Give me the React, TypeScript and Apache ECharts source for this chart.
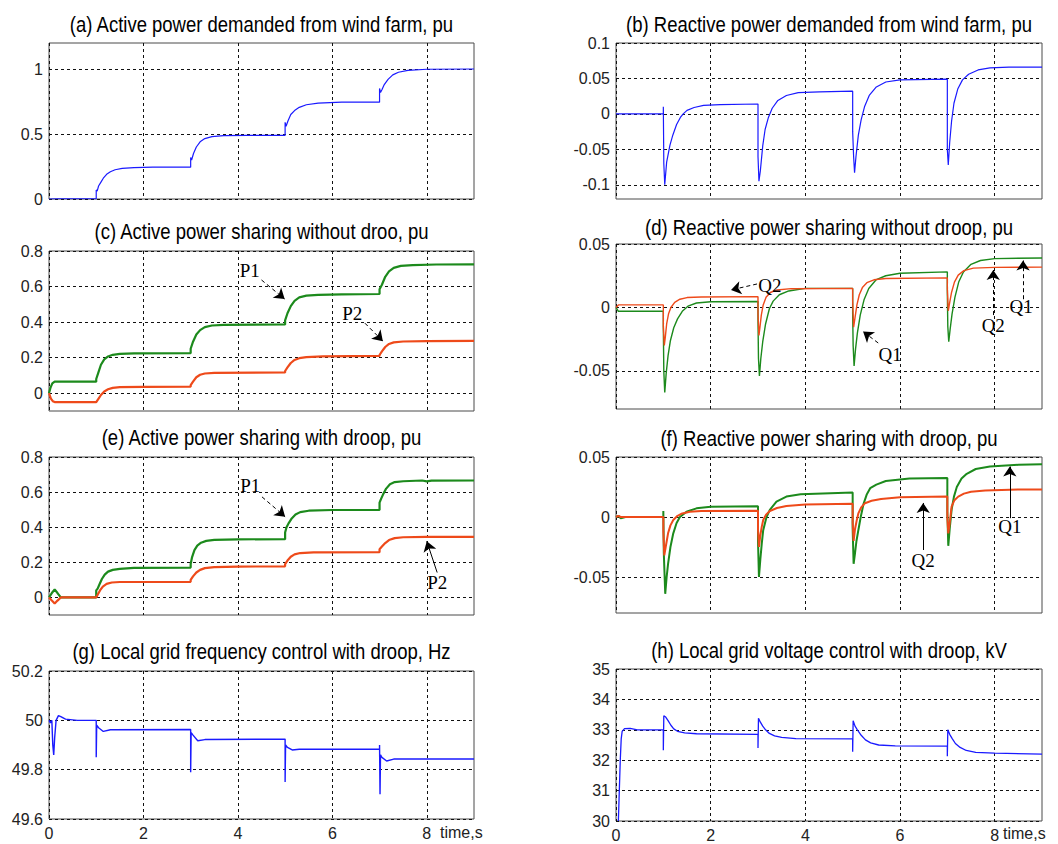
import React, { useEffect, useRef } from 'react';
import * as echarts from 'echarts';

// ---------- Titles & ticks ----------
const panelTitles = [
  '(a) Active power demanded from wind farm, pu',
  '(b) Reactive power demanded from wind farm, pu',
  '(c) Active power sharing without droo, pu',
  '(d) Reactive power sharing without droop, pu',
  '(e) Active power sharing with droop, pu',
  '(f) Reactive power sharing with droop, pu',
  '(g) Local grid frequency control with droop, Hz',
  '(h) Local grid voltage control with droop, kV',
];
const xTicks = [0, 2, 4, 6, 8];
const yRanges = [[0, 1.2], [-0.12, 0.1], [-0.1, 0.8], [-0.08, 0.05], [-0.1, 0.8], [-0.08, 0.05], [49.6, 50.2], [30, 35]];
const yTicks = [
  [0, 0.5, 1],
  [-0.1, -0.05, 0, 0.05, 0.1],
  [0, 0.2, 0.4, 0.6, 0.8],
  [-0.05, 0, 0.05],
  [0, 0.2, 0.4, 0.6, 0.8],
  [-0.05, 0, 0.05],
  [49.6, 49.8, 50, 50.2],
  [30, 31, 32, 33, 34, 35],
];
const timeLabel = 'time,s';

// ---------- Data: [time s, value] ----------
const aP = [[0,0],[0.2,0.002],[1.0,0.002],[1.0,0.07],[1.02,0.06],[1.05,0.1],[1.1,0.13],[1.15,0.16],[1.22,0.19],[1.3,0.21],[1.4,0.225],[1.55,0.235],[1.8,0.242],[2.2,0.245],[3.0,0.245],[3.0,0.32],[3.02,0.3],[3.06,0.35],[3.12,0.4],[3.2,0.44],[3.3,0.465],[3.45,0.48],[3.7,0.488],[4.2,0.49],[5.0,0.49],[5.0,0.59],[5.02,0.56],[5.06,0.6],[5.12,0.65],[5.2,0.68],[5.3,0.705],[5.45,0.725],[5.7,0.738],[6.2,0.745],[7.0,0.745],[7.0,0.85],[7.02,0.82],[7.05,0.84],[7.1,0.88],[7.18,0.92],[7.28,0.955],[7.4,0.975],[7.6,0.99],[8.0,0.998],[9.0,1.0]];
const bQ = [[0,0],[1.0,0],[1.0,0.01],[1.01,-0.07],[1.03,-0.1],[1.07,-0.068],[1.14,-0.044],[1.2,-0.03],[1.28,-0.015],[1.36,-0.005],[1.42,0.0],[1.5,0.005],[1.65,0.009],[1.85,0.012],[2.2,0.013],[3.0,0.014],[3.0,-0.06],[3.02,-0.095],[3.05,-0.08],[3.1,-0.045],[3.15,-0.022],[3.22,-0.005],[3.3,0.008],[3.42,0.019],[3.6,0.026],[3.85,0.03],[4.3,0.031],[5.0,0.032],[5.0,-0.025],[5.02,-0.06],[5.04,-0.083],[5.07,-0.06],[5.12,-0.03],[5.18,-0.008],[5.25,0.01],[5.35,0.026],[5.5,0.038],[5.7,0.045],[6.0,0.048],[7.0,0.049],[7.0,-0.05],[7.02,-0.072],[7.05,-0.04],[7.09,-0.01],[7.14,0.015],[7.22,0.035],[7.32,0.048],[7.45,0.056],[7.65,0.062],[7.9,0.065],[8.3,0.066],[9.0,0.066]];
const cP1 = [[0,0],[0.03,0.03],[0.07,0.055],[0.12,0.065],[1.0,0.065],[1.0,0.08],[1.05,0.12],[1.1,0.16],[1.17,0.19],[1.25,0.207],[1.35,0.216],[1.5,0.221],[1.8,0.224],[3.0,0.225],[3.0,0.25],[3.05,0.29],[3.12,0.33],[3.2,0.355],[3.3,0.372],[3.45,0.381],[3.7,0.385],[5.0,0.387],[5.0,0.41],[5.05,0.45],[5.12,0.49],[5.2,0.52],[5.3,0.539],[5.45,0.549],[5.7,0.553],[6.2,0.556],[7.0,0.558],[7.0,0.585],[7.05,0.61],[7.12,0.655],[7.2,0.685],[7.3,0.705],[7.45,0.716],[7.7,0.721],[8.2,0.724],[9.0,0.725]];
const cP2 = [[0,0],[0.04,-0.03],[0.08,-0.045],[0.12,-0.05],[1.0,-0.05],[1.05,-0.03],[1.1,-0.01],[1.17,0.01],[1.25,0.022],[1.35,0.03],[1.5,0.034],[2.0,0.036],[3.0,0.037],[3.0,0.045],[3.05,0.065],[3.12,0.09],[3.2,0.104],[3.3,0.111],[3.5,0.114],[5.0,0.117],[5.0,0.125],[5.05,0.145],[5.12,0.17],[5.2,0.187],[5.3,0.197],[5.45,0.203],[5.8,0.207],[7.0,0.21],[7.0,0.215],[7.05,0.235],[7.12,0.26],[7.2,0.277],[7.3,0.286],[7.5,0.291],[8.0,0.293],[9.0,0.294]];
const dQ1 = [[0,0],[0.05,-0.003],[1.0,-0.003],[1.0,-0.015],[1.01,-0.05],[1.03,-0.067],[1.06,-0.052],[1.1,-0.038],[1.15,-0.026],[1.22,-0.016],[1.3,-0.009],[1.4,-0.003],[1.52,0.001],[1.7,0.0035],[2.0,0.0045],[3.0,0.0047],[3.0,-0.01],[3.01,-0.04],[3.03,-0.054],[3.06,-0.04],[3.1,-0.027],[3.16,-0.013],[3.24,-0.001],[3.32,0.005],[3.45,0.01],[3.65,0.013],[4.0,0.015],[5.0,0.015],[5.0,-0.005],[5.01,-0.03],[5.03,-0.046],[5.06,-0.033],[5.1,-0.02],[5.16,-0.006],[5.24,0.006],[5.34,0.015],[5.5,0.022],[5.7,0.025],[6.0,0.027],[7.0,0.028],[7.0,0.012],[7.01,-0.015],[7.03,-0.027],[7.06,-0.017],[7.1,-0.005],[7.16,0.008],[7.24,0.02],[7.34,0.028],[7.5,0.034],[7.7,0.037],[8.0,0.0385],[9.0,0.039]];
const dQ2 = [[0,0],[0.05,0.002],[1.0,0.002],[1.0,-0.015],[1.02,-0.03],[1.04,-0.024],[1.07,-0.013],[1.11,-0.005],[1.16,0.0],[1.24,0.004],[1.35,0.0065],[1.5,0.0078],[1.8,0.0083],[3.0,0.0085],[3.0,-0.005],[3.02,-0.022],[3.04,-0.016],[3.07,-0.006],[3.11,0.002],[3.17,0.008],[3.26,0.0118],[3.4,0.0138],[3.7,0.0148],[5.0,0.015],[5.0,0.005],[5.02,-0.0155],[5.05,-0.008],[5.09,0.002],[5.14,0.01],[5.21,0.016],[5.3,0.0195],[5.45,0.0218],[5.7,0.0228],[7.0,0.0233],[7.0,0.015],[7.02,-0.0026],[7.05,0.004],[7.09,0.012],[7.15,0.02],[7.23,0.0255],[7.35,0.029],[7.55,0.031],[8.0,0.0316],[9.0,0.0318]];
const eP1 = [[0,0],[0.06,0.025],[0.12,0.045],[0.18,0.025],[0.25,0],[1.0,0],[1.0,0.04],[1.03,0.05],[1.07,0.075],[1.12,0.105],[1.18,0.13],[1.25,0.147],[1.35,0.157],[1.5,0.163],[1.8,0.168],[3.0,0.17],[3.0,0.19],[3.03,0.23],[3.08,0.27],[3.14,0.295],[3.22,0.312],[3.33,0.322],[3.5,0.328],[4.0,0.331],[5.0,0.332],[5.0,0.37],[5.03,0.4],[5.08,0.425],[5.14,0.45],[5.22,0.472],[5.32,0.486],[5.5,0.494],[6.0,0.498],[7.0,0.498],[7.0,0.54],[7.03,0.56],[7.08,0.59],[7.14,0.62],[7.22,0.645],[7.32,0.657],[7.5,0.662],[7.9,0.666],[8.0,0.661],[8.1,0.665],[9.0,0.666]];
const eP2 = [[0,0],[0.06,-0.018],[0.12,-0.035],[0.18,-0.018],[0.25,0],[1.0,0],[1.03,0.015],[1.08,0.04],[1.14,0.062],[1.22,0.077],[1.33,0.085],[1.5,0.088],[3.0,0.089],[3.0,0.1],[3.05,0.12],[3.12,0.142],[3.2,0.157],[3.3,0.167],[3.5,0.173],[4.0,0.176],[5.0,0.177],[5.0,0.19],[5.05,0.21],[5.12,0.232],[5.2,0.245],[5.32,0.253],[5.6,0.257],[7.0,0.258],[7.0,0.275],[7.05,0.29],[7.12,0.31],[7.2,0.327],[7.32,0.338],[7.5,0.343],[8.0,0.345],[9.0,0.345]];
const fQ1 = [[0,0],[0.05,0.001],[0.1,-0.001],[0.2,0],[1.0,0],[1.0,0.005],[1.01,-0.03],[1.04,-0.064],[1.07,-0.05],[1.1,-0.039],[1.15,-0.025],[1.21,-0.0136],[1.28,-0.005],[1.35,0.0],[1.49,0.0044],[1.7,0.0072],[2.0,0.0085],[3.0,0.009],[3.0,-0.02],[3.02,-0.05],[3.05,-0.035],[3.08,-0.022],[3.11,-0.011],[3.18,0.0],[3.25,0.006],[3.39,0.0128],[3.6,0.017],[3.9,0.019],[5.0,0.0205],[5.0,-0.01],[5.02,-0.039],[5.05,-0.03],[5.08,-0.02],[5.12,-0.011],[5.17,0.0],[5.23,0.011],[5.3,0.019],[5.37,0.024],[5.5,0.027],[5.7,0.03],[6.2,0.032],[7.0,0.0325],[7.0,0.005],[7.02,-0.024],[7.05,-0.01],[7.09,0.006],[7.14,0.017],[7.2,0.025],[7.3,0.032],[7.41,0.036],[7.6,0.04],[7.9,0.042],[8.5,0.0435],[9.0,0.044]];
const fQ2 = [[0,0],[0.05,0.001],[0.1,0],[1.0,0],[1.0,-0.012],[1.02,-0.032],[1.05,-0.025],[1.1,-0.0136],[1.15,-0.007],[1.21,-0.0025],[1.3,0.001],[1.4,0.003],[1.56,0.0044],[1.8,0.005],[3.0,0.0052],[3.0,-0.01],[3.02,-0.025],[3.05,-0.015],[3.08,-0.008],[3.11,-0.0025],[3.17,0.002],[3.25,0.005],[3.4,0.0075],[3.6,0.0092],[4.0,0.0105],[5.0,0.011],[5.0,-0.005],[5.02,-0.02],[5.05,-0.01],[5.09,-0.002],[5.12,0.003],[5.18,0.008],[5.26,0.0115],[5.4,0.0135],[5.6,0.015],[6.0,0.0165],[7.0,0.017],[7.0,0.0],[7.02,-0.0136],[7.05,-0.005],[7.09,0.0086],[7.15,0.014],[7.23,0.017],[7.35,0.0195],[7.5,0.021],[7.8,0.022],[8.5,0.023],[9.0,0.023]];
const gF = [[0,50.0],[0.03,49.99],[0.06,50.0],[0.08,49.9],[0.1,49.86],[0.12,49.93],[0.15,50.0],[0.2,50.019],[0.25,50.015],[0.35,50.005],[0.6,50.0],[1.0,50.0],[1.0,49.85],[1.01,49.98],[1.05,49.97],[1.15,49.955],[1.3,49.962],[3.0,49.963],[3.0,49.79],[3.01,49.95],[3.05,49.94],[3.15,49.917],[3.3,49.922],[5.0,49.924],[5.0,49.75],[5.01,49.9],[5.05,49.89],[5.15,49.88],[5.3,49.883],[7.0,49.883],[7.0,49.9],[7.01,49.7],[7.02,49.86],[7.05,49.85],[7.15,49.835],[7.3,49.843],[9.0,49.843]];
const hV = [[0.05,30.0],[0.07,31.0],[0.09,32.0],[0.11,32.7],[0.13,32.95],[0.18,33.04],[0.3,33.05],[0.45,33.0],[1.0,33.0],[1.0,32.33],[1.01,33.46],[1.05,33.42],[1.1,33.3],[1.16,33.15],[1.22,33.03],[1.3,32.95],[1.45,32.9],[1.7,32.87],[3.0,32.85],[3.0,32.4],[3.01,33.38],[3.05,33.25],[3.1,33.12],[3.16,33.0],[3.24,32.88],[3.35,32.8],[3.5,32.75],[3.8,32.71],[5.0,32.7],[5.0,32.28],[5.01,33.3],[5.05,33.12],[5.1,33.0],[5.18,32.82],[5.27,32.67],[5.38,32.57],[5.55,32.5],[5.9,32.47],[7.0,32.46],[7.0,32.13],[7.01,33.0],[7.05,32.85],[7.1,32.72],[7.17,32.55],[7.27,32.42],[7.4,32.32],[7.6,32.26],[8.0,32.23],[9.0,32.2]];

// ---------- Annotations (data coordinates) ----------
const annC = { P1: { text: [4.25, 0.693], arrow: [[4.5, 0.637], [4.99, 0.53]] }, P2: { text: [6.42, 0.45], arrow: [[6.69, 0.394], [7.07, 0.293]] } };
const annD = {
  Q2a: { text: [3.25, 0.017], arrow: [[2.98, 0.0185], [2.43, 0.0138]] },
  Q1a: { text: [5.79, -0.037], arrow: [[5.54, -0.028], [5.22, -0.019]] },
  Q2b: { text: [7.97, -0.0145], arrow: [[7.97, -0.006], [7.97, 0.0295]] },
  Q1b: { text: [8.56, 0.0005], arrow: [[8.6, 0.0065], [8.6, 0.037]] },
};
const annE = { P1: { text: [4.26, 0.64], arrow: [[4.51, 0.573], [5.0, 0.46]] }, P2: { text: [8.22, 0.085], arrow: [[8.22, 0.142], [8.0, 0.32]] } };
const annF = { Q2: { text: [6.49, -0.0365], arrow: [[6.49, -0.0275], [6.49, 0.0117]] }, Q1: { text: [8.32, -0.008], arrow: [[8.32, -0.001], [8.32, 0.042]] } };

// ---------- Layout ----------
const grids = [
  { left: 49, top: 43, width: 425, height: 156 },
  { left: 616, top: 43, width: 426, height: 156 },
  { left: 49, top: 251, width: 425, height: 160 },
  { left: 616, top: 244, width: 426, height: 165 },
  { left: 49, top: 457, width: 425, height: 158 },
  { left: 616, top: 457, width: 426, height: 156 },
  { left: 49, top: 671, width: 425, height: 148 },
  { left: 616, top: 669, width: 426, height: 152 },
];
const titleY = [24, 24, 231, 227, 437, 438, 651, 650];

const BLUE = '#1a1aff';
const GREEN = '#1c8a1c';
const RED = '#ee4a1a';
const SANS = '"Liberation Sans", Arial, sans-serif';
const SERIF = '"Liberation Serif", "Times New Roman", serif';

function arrows(items: any[], dashed: boolean) {
  return {
    silent: true,
    symbol: ['none', 'arrow'],
    symbolSize: 10,
    label: { show: false },
    lineStyle: { color: '#000', width: 1, type: dashed ? [4, 3] : 'solid' },
    emphasis: { disabled: true },
    data: items.map((a) => [{ coord: a.arrow[0] }, { coord: a.arrow[1] }]),
  };
}
function texts(names: string[], items: any[]) {
  return {
    silent: true,
    symbol: 'circle',
    symbolSize: 1,
    itemStyle: { color: 'rgba(0,0,0,0)' },
    label: { show: true, position: 'inside', formatter: '{b}', color: '#000', fontFamily: SERIF, fontSize: 19 },
    emphasis: { disabled: true },
    data: items.map((a, i) => ({ name: names[i], coord: a.text })),
  };
}

function line(data: number[][], idx: number, color: string, width: number, extra: any = {}) {
  return {
    type: 'line',
    xAxisIndex: idx,
    yAxisIndex: idx,
    data,
    showSymbol: false,
    symbol: 'none',
    silent: true,
    lineStyle: { color, width },
    itemStyle: { color },
    ...extra,
  };
}

export default function App() {
  const ref = useRef<HTMLDivElement>(null);
  useEffect(() => {
    if (!ref.current) return;
    const chart = echarts.init(ref.current, null, { renderer: 'svg' });
    const xAxes = grids.map((_, i) => ({
      type: 'value',
      gridIndex: i,
      min: 0,
      max: 9,
      interval: 2,
      axisLine: { show: false },
      axisTick: { show: false, customValues: xTicks },
      axisLabel: {
        show: i >= 6,
        customValues: xTicks,
        margin: 6,
        fontSize: 16,
        color: '#222',
        fontFamily: SANS,
      },
      splitLine: { show: true, lineStyle: { color: '#111', width: 1, type: [3, 3] } },
    }));
    const yAxes = grids.map((_, i) => ({
      type: 'value',
      gridIndex: i,
      min: yRanges[i][0],
      max: yRanges[i][1],
      axisLine: { show: false },
      axisTick: { show: false, customValues: yTicks[i] },
      axisLabel: { customValues: yTicks[i], margin: 6, fontSize: 16, color: '#222', fontFamily: SANS },
      splitLine: { show: true, lineStyle: { color: '#111', width: 1, type: [3, 3] } },
    }));
    const graphic: any[] = grids.map((g, i) => ({
      type: 'text',
      x: g.left + g.width / 2,
      y: titleY[i],
      scaleY: 1.2,
      silent: true,
      style: {
        text: panelTitles[i],
        fill: '#000',
        font: `18.5px ${SANS}`,
        align: 'center',
        verticalAlign: 'middle',
      },
    }));
    graphic.push(
      { type: 'text', x: 440, y: 832, silent: true, style: { text: timeLabel, fill: '#222', font: `16px ${SANS}`, align: 'left', verticalAlign: 'middle' } },
      { type: 'text', x: 1003, y: 833, silent: true, style: { text: timeLabel, fill: '#222', font: `16px ${SANS}`, align: 'left', verticalAlign: 'middle' } },
    );

    const series = [
      line(aP, 0, BLUE, 1.2),
      line(bQ, 1, BLUE, 1.2),
      line(cP1, 2, GREEN, 2.2, { markLine: arrows([annC.P1], true), markPoint: texts(['P1'], [annC.P1]) }),
      line(cP2, 2, RED, 2.2, { markLine: arrows([annC.P2], true), markPoint: texts(['P2'], [annC.P2]) }),
      line(dQ1, 3, GREEN, 1.4, {
        markLine: { ...arrows([annD.Q1a], true), data: [...arrows([annD.Q1a], true).data, ...arrows([annD.Q1b], false).data] },
        markPoint: texts(['Q1', 'Q1'], [annD.Q1a, annD.Q1b]),
      }),
      line(dQ2, 3, RED, 1.4, {
        markLine: arrows([annD.Q2a], true),
        markPoint: texts(['Q2', 'Q2'], [annD.Q2a, annD.Q2b]),
      }),
      line(eP1, 4, GREEN, 2.2, { markLine: arrows([annE.P1], true), markPoint: texts(['P1'], [annE.P1]) }),
      line(eP2, 4, RED, 2.2, { markLine: arrows([annE.P2], false), markPoint: texts(['P2'], [annE.P2]) }),
      line(fQ1, 5, GREEN, 2, { markLine: arrows([annF.Q1], false), markPoint: texts(['Q1'], [annF.Q1]) }),
      line(fQ2, 5, RED, 2, { markLine: arrows([annF.Q2], false), markPoint: texts(['Q2'], [annF.Q2]) }),
      line(gF, 6, BLUE, 1.4),
      line(hV, 7, BLUE, 1.3),
    ];
    // Q2 vertical arrow in (d) is solid
    (series[5] as any).markLine.data.push(...arrows([annD.Q2b], false).data);

    chart.setOption({
      animation: false,
      backgroundColor: '#fff',
      grid: grids.map((g) => ({ ...g, show: true, borderColor: '#4a4a4a', borderWidth: 1, backgroundColor: 'transparent' })),
      xAxis: xAxes,
      yAxis: yAxes,
      series,
      graphic,
    });
    return () => chart.dispose();
  }, []);
  return <div ref={ref} style={{ position: 'fixed', left: 0, top: 0, width: 1058, height: 844, background: '#fff' }} />;
}
